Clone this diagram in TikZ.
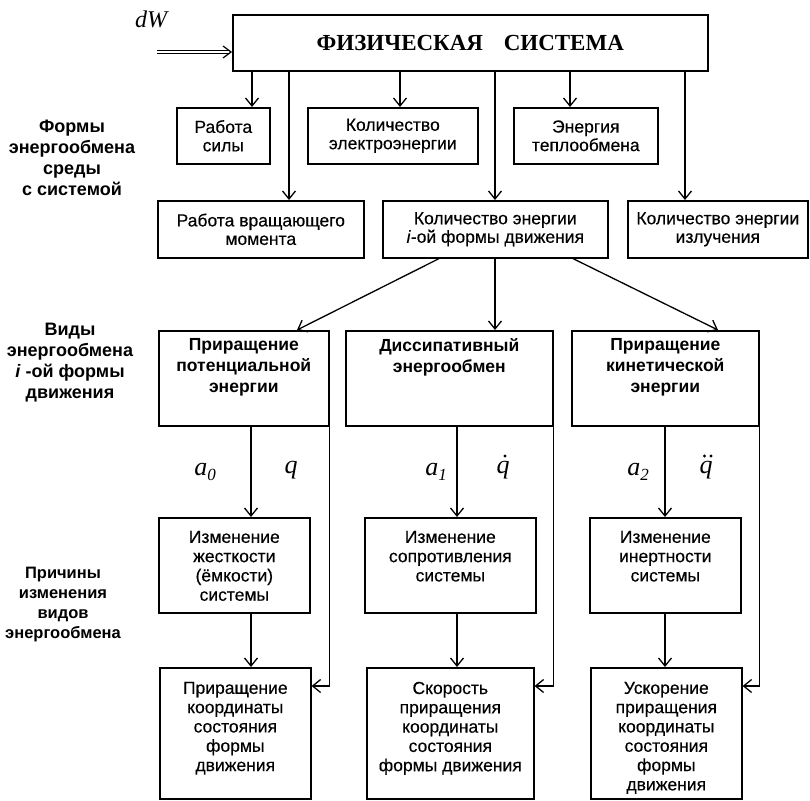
\documentclass[tikz,border=0pt]{standalone}
\usepackage{fontspec}
\setmainfont{Liberation Sans}
\newfontfamily\serif{Liberation Serif}
\newfontfamily\medsans{Liberation Sans}[FakeBold=0.35]
\usetikzlibrary{arrows.meta,calc}

\tikzset{
  box/.style={draw, line width=1.6pt, rectangle, inner sep=0pt, anchor=north west},
  arr/.style={line width=1.3pt, -{Straight Barb[length=8pt,width=13pt,line width=1.3pt]}},
  dblarr/.style={double, double distance=1.8pt, line width=0.9pt, -{Straight Barb[length=8pt,width=12pt,line width=1.2pt]}},
  lbl/.style={align=center, font=\fontsize{18}{21}\selectfont\bfseries},
  mth/.style={font=\serif\itshape\fontsize{26}{30}\selectfont, inner sep=1pt},
  accdot/.style={fill, radius=1.7pt},
}
\newcommand\rg{\medsans\fontsize{17.5}{18.5}\selectfont}
\newcommand\rgt{\medsans\fontsize{17.5}{19.3}\selectfont}
\newcommand\bd{\fontsize{17.5}{21}\selectfont\bfseries}
\newcommand\vsub[1]{\raisebox{-5pt}{\fontsize{17}{17}\selectfont #1}}
% name, x, y, w, h, content (vertically centred)
\newcommand\bx[6]{\node[box] (#1) at (#2,#3) {\parbox[c][#5pt][c]{#4pt}{\centering #6}};}
% name, x, y, w, h, top pad, content (top aligned)
\newcommand\bxt[7]{\node[box] (#1) at (#2,#3) {\parbox[c][#5pt][t]{#4pt}{\centering\vspace*{#6pt}#7}};}

\begin{document}
\begin{tikzpicture}[x=1pt,y=-1pt]
\useasboundingbox (0,0) rectangle (810,800);

% boxes
\bx{top}{232}{14}{475}{56}{\serif\bfseries\fontsize{23}{26}\selectfont ФИЗИЧЕСКАЯ\hspace{0.9em}СИСТЕМА}
\bx{A}{176}{107}{93}{56}{\rg Работа\\силы}
\bx{B}{307}{107}{170}{56}{\rg Количество\\электроэнергии}
\bx{C}{513}{107}{144}{56}{\rg Энергия\\теплообмена}
\bx{D}{157}{200}{206}{57}{\rg Работа вращающего\\момента}
\bx{E}{382}{200}{225}{57}{\rg Количество энергии\\\textit{i}-ой формы движения}
\bx{F}{627}{200}{180}{57}{\rg Количество энергии\\излучения}
\bxt{G}{158}{330}{170}{95}{8}{\bd Приращение\\потенциальной\\энергии}
\bxt{H}{345}{330}{207}{95}{8}{\bd Диссипативный\\энергообмен}
\bxt{I}{571}{330}{187}{95}{8}{\bd Приращение\\кинетической\\энергии}
\bxt{J}{158}{517}{151}{95}{13}{\rgt Изменение\\жесткости\\(ёмкости)\\системы}
\bxt{K}{364}{517}{171}{95}{13}{\rgt Изменение\\сопротивления\\системы}
\bxt{L}{589}{517}{151}{95}{13}{\rgt Изменение\\инертности\\системы}
\bxt{M}{159}{667}{151}{131}{14}{\rgt Приращение\\координаты\\состояния\\формы\\движения}
\bxt{N}{366}{667}{167}{131}{14}{\rgt Скорость\\приращения\\координаты\\состояния\\формы движения}
\bxt{O}{590}{667}{151}{131}{14}{\rgt Ускорение\\приращения\\координаты\\состояния\\формы\\движения}

% side labels
\node[lbl] (L1) at (72,158) {Формы\\энергообмена\\среды\\с системой};
\node[lbl] (L2) at (70,363) {Виды\\энергообмена\\\textit{i} -ой формы\\движения};
\node[lbl, font=\fontsize{16.5}{20}\selectfont\bfseries] (L3) at (63,605) {Причины\\изменения\\видов\\энергообмена};

% input
\node[font=\serif\itshape\fontsize{24}{28}\selectfont] (dw) at (151,19) {dW};
\coordinate (dws) at (157,52);
\draw[dblarr] (dws) -- (dws -| top.west);

% top arrows
\coordinate (x1) at (252,0);
\coordinate (x2) at (289,0);
\coordinate (x3) at (400,0);
\coordinate (x4) at (495,0);
\coordinate (x5) at (570,0);
\coordinate (x6) at (685,0);
\draw[arr] (x1 |- top.south) -- (x1 |- A.north);
\draw[arr] (x2 |- top.south) -- (x2 |- D.north);
\draw[arr] (x3 |- top.south) -- (x3 |- B.north);
\draw[arr] (x4 |- top.south) -- (x4 |- E.north);
\draw[arr] (x5 |- top.south) -- (x5 |- C.north);
\draw[arr] (x6 |- top.south) -- (x6 |- F.north);

% from E to kinds
\draw[arr] ($(E.south west)+(57,0)$) -- ($(G.north west)+(139,0)$);
\draw[arr] (x4 |- E.south) -- (x4 |- H.north);
\draw[arr] ($(E.south west)+(191,0)$) -- ($(I.north west)+(147,0)$);

% columns
\coordinate (c1) at (251,0);
\coordinate (c2) at (457,0);
\coordinate (c3) at (665,0);
\draw[arr] (c1 |- G.south) -- (c1 |- J.north);
\draw[arr] (c1 |- J.south) -- (c1 |- M.north);
\draw[arr] (c2 |- H.south) -- (c2 |- K.north);
\draw[arr] (c2 |- K.south) -- (c2 |- N.north);
\draw[arr] (c3 |- I.south) -- (c3 |- L.north);
\draw[arr] (c3 |- L.south) -- (c3 |- O.north);

% side returns
\coordinate (h) at (0,686);
\draw[arr] (G.south east) -- (G.south east |- h) -- (h -| M.east);
\draw[arr] (H.south east) -- (H.south east |- h) -- (h -| N.east);
\draw[arr] (I.south east) -- (I.south east |- h) -- (h -| O.east);

% labels
\node[mth] (a0) at (205,472) {a\vsub{0}};
\node[mth] (q0) at (291,470) {q};
\node[mth] (a1) at (436,472) {a\vsub{1}};
\node[mth] (q1) at (503,470) {q};
\node[mth] (a2) at (638,472) {a\vsub{2}};
\node[mth] (q2) at (706,470) {q};
\fill[accdot] ($(q1.center)+(2,-14)$) circle;
\fill[accdot] ($(q2.center)+(-1.5,-14)$) circle;
\fill[accdot] ($(q2.center)+(5,-14)$) circle;
\end{tikzpicture}
\end{document}
